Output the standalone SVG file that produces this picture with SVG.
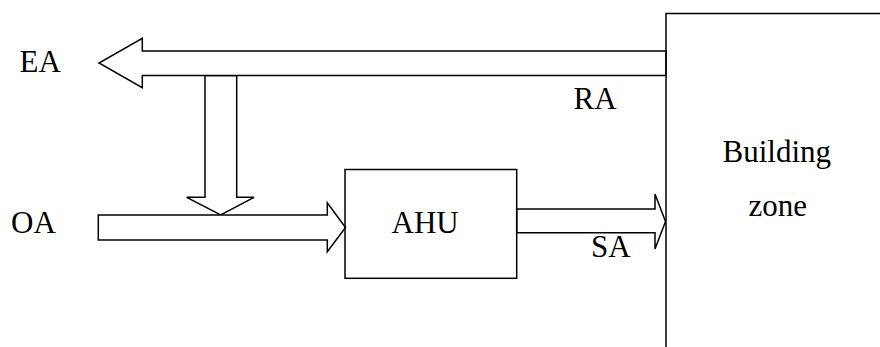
<svg xmlns="http://www.w3.org/2000/svg" width="880" height="347" viewBox="0 0 880 347">
<style>
.shape{fill:#fff;stroke:#000;stroke-width:1.5;stroke-linejoin:miter}
.box{fill:none;stroke:#000;stroke-width:1.5}
text{font-family:'Liberation Serif','Times New Roman',serif;font-size:31px;fill:#000}
</style>
<rect width="880" height="347" fill="#fff"/>
<g id="connectors">
<polygon id="mix-arrow" class="shape" points="205,75.5 236.7,75.5 236.7,197.3 254,197.3 220.7,215 186.7,197.3 205,197.3"/>
<polygon id="ea-arrow" class="shape" points="666,51 142.3,51 142.3,38.3 99,63 142.3,87.7 142.3,75.5 666,75.5"/>
<polygon id="oa-arrow" class="shape" points="98.3,215 327.3,215 327.3,202.7 345.5,227.5 327.3,251.7 327.3,240 98.3,240"/>
<polygon id="sa-arrow" class="shape" points="516.7,209 655,209 655,194 665.5,221.5 655,249 655,232.7 516.7,232.7"/>
</g>
<g id="ahu">
<rect class="box" x="345" y="169.5" width="171.7" height="108.8"/>
<text x="391.5" y="233.3">AHU</text>
</g>
<g id="building-zone">
<rect class="box" x="666" y="13.5" width="240" height="360"/>
<text x="722.5" y="162.3">Building</text>
<text x="748.5" y="216">zone</text>
</g>
<g id="labels">
<text x="19.5" y="71.7">EA</text>
<text x="11" y="233.3">OA</text>
<text x="573.5" y="109.3">RA</text>
<text x="591" y="256.7">SA</text>
</g>
</svg>
